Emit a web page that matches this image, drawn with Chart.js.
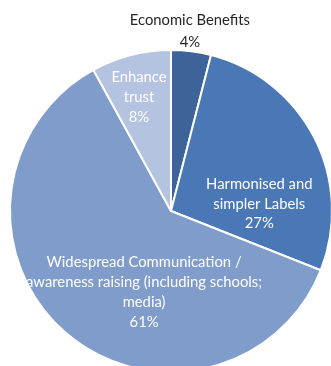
<!DOCTYPE html>
<html>
<head>
<meta charset="utf-8">
<script src="https://cdn.jsdelivr.net/npm/chart.js@4/dist/chart.umd.min.js"></script>
<style>
  html, body { margin: 0; padding: 0; background: #fff; overflow: hidden; }
  #wrap { position: absolute; left: 0; top: 0; width: 342px; height: 380px; }
</style>
</head>
<body>
<div id="wrap"><canvas id="pie"></canvas></div>
<script>
// data
const categories = [
  'Economic Benefits',
  'Harmonised and simpler Labels',
  'Widespread Communication / awareness raising (including schools; media)',
  'Enhance trust'
];
const shares = [4, 27, 61, 8];
// label lines as wrapped in the picture
const labelLines = [
  ['Economic Benefits'],
  ['Harmonised and', 'simpler Labels'],
  ['Widespread Communication /', 'awareness raising (including schools;', 'media)'],
  ['Enhance', 'trust']
];
const sliceColors = ['#3e6398', '#4a77b5', '#7f9ccb', '#b4c3df'];

// where each label sits: angle from top (deg, clockwise) and distance as a share of the radius
const labelPlace = [
  { angle: 6, r: 1.12, color: '#262626', lineH: 22 },
  { angle: 85.5, r: 0.55, color: '#ffffff', lineH: 19.5 },
  { angle: 198.4, r: 0.53, color: '#ffffff', lineH: 20 },
  { angle: 344.3, r: 0.735, color: '#ffffff', lineH: 20 }
];

const sliceLabels = {
  id: 'sliceLabels',
  afterDatasetsDraw(chart) {
    const ctx = chart.ctx;
    const meta = chart.getDatasetMeta(0);
    ctx.save();
    ctx.font = '14.8px Lato, "Open Sans", sans-serif';
    ctx.textAlign = 'center';
    ctx.textBaseline = 'middle';
    meta.data.forEach((arc, i) => {
      const p = arc.getProps(['x', 'y', 'outerRadius'], true);
      const pl = labelPlace[i];
      const a = pl.angle * Math.PI / 180;
      const cx = p.x + Math.sin(a) * p.outerRadius * pl.r;
      const cy = p.y - Math.cos(a) * p.outerRadius * pl.r;
      const lines = labelLines[i].concat([shares[i] + '%']);
      const top = cy - (lines.length - 1) * pl.lineH / 2;
      ctx.fillStyle = pl.color;
      lines.forEach((t, k) => ctx.fillText(t, cx, top + k * pl.lineH));
    });
    ctx.restore();
  }
};

new Chart(document.getElementById('pie'), {
  type: 'pie',
  data: {
    labels: categories,
    datasets: [{
      data: shares,
      backgroundColor: sliceColors,
      borderColor: '#ffffff',
      borderWidth: 2
    }]
  },
  options: {
    responsive: true,
    maintainAspectRatio: false,
    animation: false,
    layout: { padding: { top: 49, left: 9, right: 9, bottom: 7 } },
    plugins: {
      legend: { display: false },
      tooltip: { enabled: false }
    }
  },
  plugins: [sliceLabels]
});
</script>
</body>
</html>
